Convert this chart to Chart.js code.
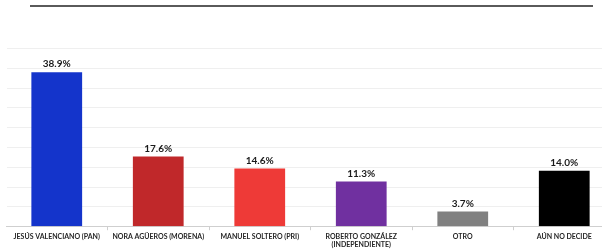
<!DOCTYPE html>
<html>
<head>
<meta charset="utf-8">
<script src="https://cdn.jsdelivr.net/npm/chart.js@4"></script>
<style>
  html, body { margin: 0; padding: 0; background: #fff; overflow: hidden; }
  #wrap { position: relative; width: 615px; height: 251px; }
  #topline { position: absolute; left: 30px; top: 5px; width: 563px; height: 2px; background: #5a5a5a; }
</style>
</head>
<body>
<div id="wrap">
  <div id="topline"></div>
  <canvas id="pollChart"></canvas>
</div>
<script>
const candidates = [
  "JESÚS VALENCIANO (PAN)",
  "NORA AGÜEROS (MORENA)",
  "MANUEL SOLTERO (PRI)",
  ["ROBERTO GONZÁLEZ", "(INDEPENDIENTE)"],
  "OTRO",
  "AÚN NO DECIDE",
];
const percents = [38.9, 17.6, 14.6, 11.3, 3.7, 14.0];
const barColors = ["#1434CB", "#C0282A", "#EE3A37", "#7030A0", "#808080", "#000000"];

// horizontal gridlines (y axis itself is hidden)
const gridLines = {
  id: "gridLines",
  beforeDatasetsDraw(chart) {
    const ctx = chart.ctx;
    const area = chart.chartArea;
    const y = chart.scales.y;
    ctx.save();
    ctx.lineWidth = 1;
    ctx.strokeStyle = "#efefef";
    y.ticks.forEach((t) => {
      if (t.value === 0) return;
      const py = Math.round(y.getPixelForValue(t.value)) + 0.5;
      ctx.beginPath();
      ctx.moveTo(area.left + 1, py);
      ctx.lineTo(area.right, py);
      ctx.stroke();
    });
    ctx.restore();
  },
};

// value labels over each bar
const valueLabels = {
  id: "valueLabels",
  afterDatasetsDraw(chart) {
    const ctx = chart.ctx;
    const meta = chart.getDatasetMeta(0);
    ctx.save();
    ctx.font = "bold 10px Lato";
    ctx.fillStyle = "#1a1a1a";
    ctx.textAlign = "center";
    ctx.textBaseline = "bottom";
    meta.data.forEach((bar, i) => {
      ctx.fillText(percents[i].toFixed(1) + "%", bar.x, bar.y - 3);
    });
    ctx.restore();
  },
};

const ctx = document.getElementById("pollChart").getContext("2d");
new Chart(ctx, {
  type: "bar",
  data: {
    labels: candidates,
    datasets: [
      {
        data: percents,
        backgroundColor: barColors,
        borderWidth: 0,
        categoryPercentage: 1,
        barPercentage: 0.5,
      },
    ],
  },
  options: {
    responsive: true,
    maintainAspectRatio: false,
    animation: false,
    layout: { padding: { top: 48, left: 6, right: 0, bottom: 0 } },
    plugins: { legend: { display: false }, tooltip: { enabled: false } },
    scales: {
      x: {
        grid: {
          drawOnChartArea: false,
          drawTicks: true,
          tickLength: 4,
          color: (c) => (c.index === 0 ? "rgba(0,0,0,0)" : "#cfcfcf"),
        },
        border: { color: "#cfcfcf" },
        ticks: {
          color: "#262626",
          font: { family: "Lato", weight: "bold", size: 7 },
          maxRotation: 0,
          autoSkip: false,
          padding: 2,
        },
      },
      y: {
        display: false,
        min: 0,
        max: 45,
        ticks: { stepSize: 5 },
      },
    },
  },
  plugins: [gridLines, valueLabels],
});
</script>
</body>
</html>
